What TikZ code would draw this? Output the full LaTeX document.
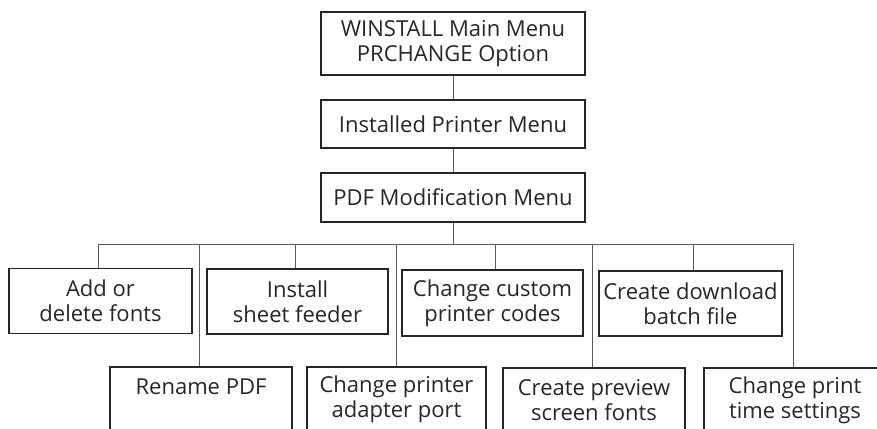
\documentclass[tikz,border=0pt]{standalone}
\usepackage{fontspec}
\setmainfont{Open Sans}
\begin{document}
\begin{tikzpicture}[x=1pt,y=-1pt,
  box/.style={draw=black!85,line width=1.2pt,rectangle,inner sep=0pt,align=center,
    font=\fontsize{22}{25}\selectfont,text=black!85},
  link/.style={draw=black!65,line width=0.8pt}]
\useasboundingbox (0,0) rectangle (877,428);
\clip (0,0) rectangle (877,428);
% top chain
\node[box,minimum width=264pt,minimum height=63pt] (main) at (453,43.5) {WINSTALL Main Menu\\PRCHANGE Option};
\node[box,minimum width=264pt,minimum height=48pt] (inst) at (453,124) {Installed Printer Menu};
\node[box,minimum width=264pt,minimum height=49pt] (pdf) at (453,197.5) {PDF Modification Menu};
\coordinate (bar) at (453,244);
% top row
\node[box,minimum width=183pt,minimum height=65pt] (add) at (100.5,301) {Add or\\delete fonts};
\node[box,minimum width=181pt,minimum height=65pt] (feed) at (297.5,301.5) {Install\\sheet feeder};
\node[box,minimum width=181pt,minimum height=66pt] (codes) at (492.5,303) {Change custom\\printer codes};
\node[box,minimum width=183pt,minimum height=65pt] (batch) at (690.5,303.5) {Create download\\batch file};
% bottom row
\node[box,minimum width=182pt,minimum height=65pt] (ren) at (201,399.5) {Rename PDF\\\mbox{}};
\node[box,minimum width=179pt,minimum height=65pt] (port) at (396.5,399.5) {Change printer\\adapter port};
\node[box,minimum width=182pt,minimum height=65pt] (prev) at (594,400.5) {Create preview\\screen fonts};
\node[box,minimum width=182pt,minimum height=65pt] (time) at (795,400.5) {Change print\\time settings};
% connectors
\draw[link] (add.north -| 98,0) -- (98,244) -- (793,244) -- (time.north -| 793,0);
\draw[link] (main.south) -- (inst.north);
\draw[link] (inst.south) -- (pdf.north);
\draw[link] (pdf.south) -- (bar);
\foreach \n/\x in {ren/199,feed/295,port/396,codes/495,prev/592,batch/693}
  \draw[link] (\n.north -| \x,0) -- (\x,244);
\end{tikzpicture}
\end{document}
